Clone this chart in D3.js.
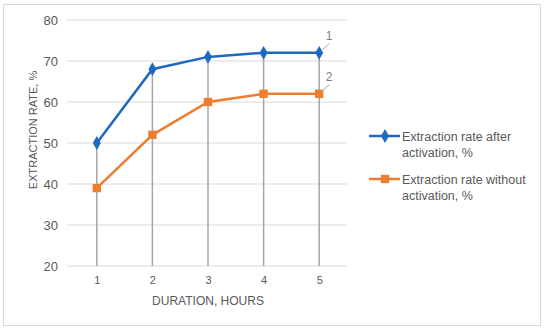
<!DOCTYPE html>
<html><head><meta charset="utf-8">
<script src="https://cdn.jsdelivr.net/npm/d3@7"></script>
<style>body{margin:0;background:#fff;} text{font-family:"Liberation Sans",Arial,sans-serif;}</style>
</head><body>
<svg id="c" width="550" height="334"></svg>
<script>
const categories = ["1","2","3","4","5"];
const seriesNames = ["Extraction rate after activation, %", "Extraction rate without activation, %"];
const afterActivation = [50, 68, 71, 72, 72];
const withoutActivation = [39, 52, 60, 62, 62];
const yTicks = [20, 30, 40, 50, 60, 70, 80];
const seriesLabels = ["1", "2"];

const svg = d3.select("#c");
svg.append("rect").attr("x",3.5).attr("y",4.5).attr("width",537).attr("height",321)
  .attr("fill","#fff").attr("stroke","#d9d9d9").attr("stroke-width",1);

const m = {left:69, right:347, top:20, bottom:266};
const x = d3.scalePoint().domain(categories).range([m.left, m.right]).padding(0.5);
const y = d3.scaleLinear().domain([20,80]).range([m.bottom, m.top]);

svg.append("g").selectAll("line").data(yTicks).join("line")
  .attr("x1",m.left-2).attr("x2",m.right).attr("y1",d=>y(d)).attr("y2",d=>y(d))
  .attr("stroke","#d9d9d9").attr("stroke-width",1);

const ya = svg.append("g").attr("transform",`translate(${m.left},0)`)
  .call(d3.axisLeft(y).tickValues(yTicks).tickSize(0).tickPadding(11));
ya.select(".domain").remove();
ya.selectAll("text").attr("fill","#595959").attr("font-size",13).attr("font-family","Liberation Sans, Arial, sans-serif");

const xa = svg.append("g").attr("transform",`translate(0,${m.bottom})`)
  .call(d3.axisBottom(x).tickSize(0).tickPadding(10));
xa.select(".domain").remove();
xa.selectAll("text").attr("fill","#595959").attr("font-size",11).attr("font-family","Liberation Sans, Arial, sans-serif");

const maxVals = categories.map((c,i)=>Math.max(afterActivation[i], withoutActivation[i]));
svg.append("g").selectAll("line").data(categories).join("line")
  .attr("x1",d=>x(d)).attr("x2",d=>x(d))
  .attr("y1",(d,i)=>y(maxVals[i])).attr("y2",y(20))
  .attr("stroke","#a6a6a6").attr("stroke-width",1.5);

const blue = "#1f68c2", orange = "#ed7d31";
const line = d3.line().x((d,i)=>x(categories[i])).y(d=>y(d));

svg.append("path").datum(withoutActivation).attr("d",line).attr("fill","none")
  .attr("stroke",orange).attr("stroke-width",2.5);
svg.append("path").datum(afterActivation).attr("d",line).attr("fill","none")
  .attr("stroke",blue).attr("stroke-width",2.5);

const sq = d3.symbol().type(d3.symbolSquare).size(70);
const dm = d3.symbol().type(d3.symbolDiamond).size(55);
svg.append("g").selectAll("path").data(withoutActivation).join("path")
  .attr("d",sq).attr("transform",(d,i)=>`translate(${x(categories[i])},${y(d)})`).attr("fill",orange);
svg.append("g").selectAll("path").data(afterActivation).join("path")
  .attr("d",dm).attr("transform",(d,i)=>`translate(${x(categories[i])},${y(d)})`).attr("fill",blue);

const last = categories.length-1;
[afterActivation, withoutActivation].forEach((s,k)=>{
  const px = x(categories[last]), py = y(s[last]);
  svg.append("line").attr("x1",px+2).attr("y1",py-2).attr("x2",px+10).attr("y2",py-9)
    .attr("stroke","#a6a6a6").attr("stroke-width",1);
  svg.append("text").attr("x",px+10).attr("y",py-13).attr("text-anchor","middle")
    .attr("fill","#808080").attr("font-size",12).text(seriesLabels[k]);
});

svg.append("text").attr("x",208).attr("y",305).attr("text-anchor","middle")
  .attr("fill","#595959").attr("font-size",12).text("DURATION, HOURS");
svg.append("text").attr("transform",`translate(37,130) rotate(-90)`)
  .attr("text-anchor","middle").attr("fill","#595959").attr("font-size",11).text("EXTRACTION RATE, %");

const legY = [136, 179];
const colors = [blue, orange];
const symbols = [dm, sq];
const lines2 = [["Extraction rate after","activation, %"],["Extraction rate without","activation, %"]];
legY.forEach((ly,k)=>{
  const g = svg.append("g");
  g.append("line").attr("x1",369).attr("x2",400).attr("y1",ly).attr("y2",ly).attr("stroke",colors[k]).attr("stroke-width",2.5);
  g.append("path").attr("d",symbols[k]).attr("transform",`translate(385,${ly})`).attr("fill",colors[k]);
  const t = g.append("text").attr("x",402).attr("y",ly+4.5).attr("fill","#595959").attr("font-size",12.5);
  lines2[k].forEach((s,j)=>t.append("tspan").attr("x",402).attr("dy",j?16.5:0).text(s));
});
</script>
</body></html>
